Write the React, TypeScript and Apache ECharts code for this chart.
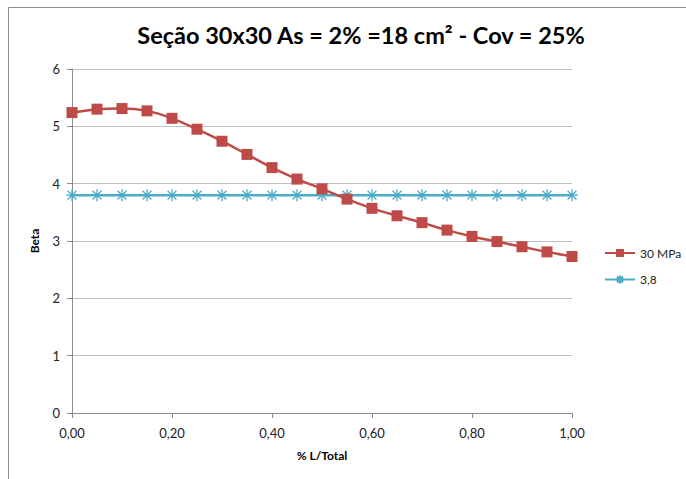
import React, { useEffect, useRef } from "react";
import * as echarts from "echarts";

const titleText = "Seção 30x30 As = 2% =18 cm² - Cov = 25%";
const xValues = [0, 0.05, 0.1, 0.15, 0.2, 0.25, 0.3, 0.35, 0.4, 0.45, 0.5, 0.55, 0.6, 0.65, 0.7, 0.75, 0.8, 0.85, 0.9, 0.95, 1.0];
const beta30MPa = [5.24, 5.3, 5.31, 5.27, 5.14, 4.95, 4.74, 4.51, 4.28, 4.08, 3.91, 3.73, 3.57, 3.44, 3.32, 3.19, 3.08, 2.99, 2.9, 2.81, 2.73];
const betaTarget = [3.8, 3.8, 3.8, 3.8, 3.8, 3.8, 3.8, 3.8, 3.8, 3.8, 3.8, 3.8, 3.8, 3.8, 3.8, 3.8, 3.8, 3.8, 3.8, 3.8, 3.8];
const seriesNames = ["30 MPa", "3,8"];

const asterisk = "path://M5,0 L5,10 M0,5 L10,5 M1.3,1.3 L8.7,8.7 M8.7,1.3 L1.3,8.7";

export default function App() {
  const ref = useRef<HTMLDivElement>(null);
  useEffect(() => {
    if (!ref.current) return;
    const chart = echarts.init(ref.current, null, { renderer: "svg" });
    const font = "Lato, 'Open Sans', sans-serif";
    chart.setOption({
      animation: false,
      backgroundColor: "#ffffff",
      textStyle: { fontFamily: font },
      title: {
        text: titleText,
        left: 356,
        textAlign: "center",
        top: 18,
        textStyle: { fontSize: 23.5, fontWeight: "bold", color: "#000", fontFamily: font },
      },
      graphic: [
        {
          type: "rect",
          shape: { x: 8.5, y: 7.5, width: 700, height: 500 },
          style: { fill: "none", stroke: "#8c8c8c", lineWidth: 1 },
          silent: true,
        },
      ],
      grid: { left: 72, right: 114, top: 69, bottom: 66, containLabel: false },
      legend: {
        orient: "vertical",
        left: 604,
        top: 247,
        padding: 0,
        itemWidth: 30,
        itemHeight: 10,
        itemGap: 14,
        textStyle: { fontSize: 12, color: "#222", fontFamily: font },
        data: seriesNames,
      },
      xAxis: {
        type: "value",
        min: 0,
        max: 1,
        interval: 0.2,
        name: "% L/Total",
        nameLocation: "middle",
        nameGap: 36,
        nameTextStyle: { fontSize: 12, fontWeight: "bold", color: "#000", fontFamily: font },
        axisLine: { show: true, lineStyle: { color: "#8c8c8c" } },
        axisTick: { show: true, length: 5, lineStyle: { color: "#8c8c8c" } },
        axisLabel: {
          fontSize: 13,
          color: "#222",
          margin: 13,
          formatter: (v: number) => v.toFixed(2).replace(".", ","),
        },
        splitLine: { show: false },
      },
      yAxis: {
        type: "value",
        min: 0,
        max: 6,
        interval: 1,
        name: "Beta",
        nameLocation: "middle",
        nameGap: 32,
        nameRotate: 90,
        nameTextStyle: { fontSize: 12, fontWeight: "bold", color: "#000", fontFamily: font },
        axisLine: { show: true, lineStyle: { color: "#8c8c8c" } },
        axisTick: { show: true, inside: false, length: 5, lineStyle: { color: "#8c8c8c" } },
        axisLabel: { fontSize: 13, color: "#222", margin: 12 },
        splitLine: { show: true, lineStyle: { color: "#bfbfbf", width: 1 } },
      },
      series: [
        {
          name: seriesNames[0],
          type: "line",
          smooth: 0.3,
          data: xValues.map((x, i) => [x, beta30MPa[i]]),
          symbol: "rect",
          symbolSize: 11,
          lineStyle: { color: "#BE4B48", width: 2.5 },
          itemStyle: { color: "#BE4B48" },
          z: 3,
        },
        {
          name: seriesNames[1],
          type: "line",
          data: xValues.map((x, i) => [x, betaTarget[i]]),
          symbol: asterisk,
          symbolSize: 12,
          lineStyle: { color: "#4BACC6", width: 2.5 },
          itemStyle: { color: "none", borderColor: "#4BACC6", borderWidth: 1.3 },
          z: 2,
        },
      ],
    });
    return () => chart.dispose();
  }, []);
  return (
    <div
      ref={ref}
      style={{ position: "absolute", left: 0, top: 0, width: 686, height: 479 }}
    />
  );
}
